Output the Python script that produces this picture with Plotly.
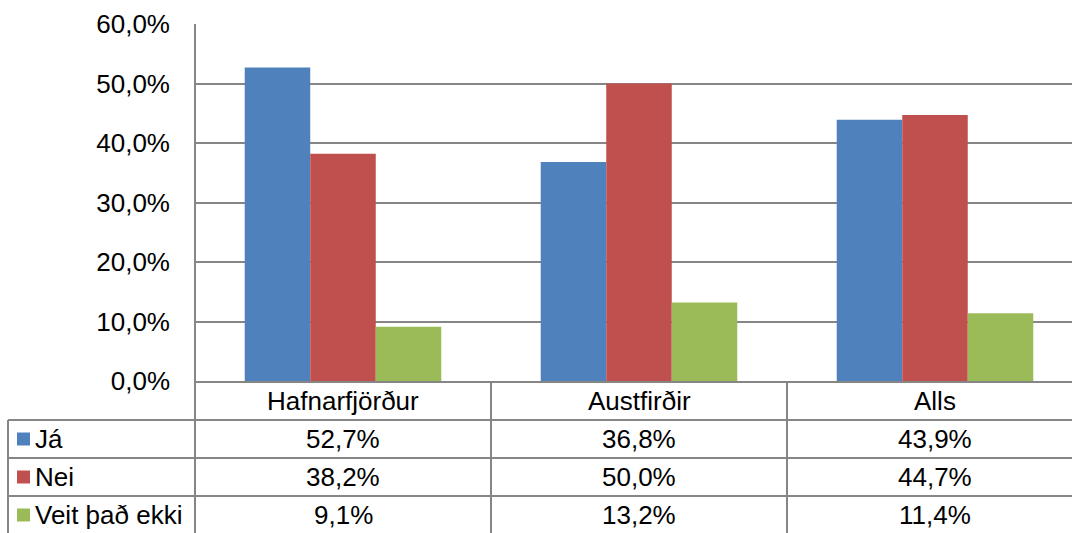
import plotly.graph_objects as go

categories = ["Hafnarfjörður", "Austfirðir", "Alls"]
series_names = ["Já", "Nei", "Veit það ekki"]
ja = [0.527, 0.368, 0.439]
nei = [0.382, 0.500, 0.447]
veit = [0.091, 0.132, 0.114]
colors = ["#4F81BD", "#C0504D", "#9BBB59"]

W, H = 1072, 533
L, T, B = 195, 24, 381  # plot area pixel bounds (left, top, bottom)
PH = B - T
PW = W - L
GRID = "#868686"
FONT = "Liberation Sans, Arial, sans-serif"
FS = 26

def py(p):  # pixel y -> paper y
    return (B - p) / PH

def px(p):  # pixel x -> paper x
    return (p - L) / PW

xs = list(range(len(categories)))
fig = go.Figure()
all_vals = [ja, nei, veit]
for name, vals, c in zip(series_names, all_vals, colors):
    fig.add_trace(go.Bar(x=xs, y=vals, name=name, marker=dict(color=c, line=dict(width=0)),
                         showlegend=False))

unit = 296  # pixels per category
xr_max = -0.5 + PW / unit

shapes = []
# left axis line extended down through table
shapes.append(dict(type="line", xref="paper", yref="paper", x0=0, x1=0, y0=py(H + 2), y1=1,
                   line=dict(color=GRID, width=2)))
# category separators
for k in [0.5, 1.5, 2.5]:
    shapes.append(dict(type="line", xref="x", yref="paper", x0=k, x1=k, y0=py(H + 2), y1=0,
                       line=dict(color=GRID, width=2)))
# horizontal table lines
row_lines = [420, 458, 496]
for r in row_lines:
    shapes.append(dict(type="line", xref="paper", yref="paper", x0=px(8), x1=px(W + 2), y0=py(r), y1=py(r),
                       line=dict(color=GRID, width=2)))
# left border of legend column
shapes.append(dict(type="line", xref="paper", yref="paper", x0=px(8), x1=px(8), y0=py(H + 2), y1=py(420),
                   line=dict(color=GRID, width=2)))

annotations = []
# category header
for i, cat in enumerate(categories):
    annotations.append(dict(x=i, y=py(401), xref="x", yref="paper", text=cat, showarrow=False,
                            font=dict(size=FS, color="black", family=FONT), xanchor="center", yanchor="middle"))
row_centers = [439, 477, 515]
for rc, name, vals, c in zip(row_centers, series_names, all_vals, colors):
    shapes.append(dict(type="rect", xref="paper", yref="paper", x0=px(17), x1=px(30), y0=py(rc + 6.5), y1=py(rc - 6.5),
                       fillcolor=c, line=dict(width=0)))
    annotations.append(dict(x=px(33), y=py(rc), xref="paper", yref="paper", text=name, showarrow=False,
                            font=dict(size=FS, color="black", family=FONT), xanchor="left", yanchor="middle"))
    for i, v in enumerate(vals):
        txt = f"{v*100:.1f}%".replace(".", ",")
        annotations.append(dict(x=i, y=py(rc), xref="x", yref="paper", text=txt, showarrow=False,
                                font=dict(size=FS, color="black", family=FONT), xanchor="center", yanchor="middle"))

fig.update_layout(
    width=W, height=H,
    margin=dict(l=L, r=0, t=T, b=H - B, pad=0),
    plot_bgcolor="white", paper_bgcolor="white",
    barmode="group", bargap=0.336, bargroupgap=0,
    separators=",.",
    font=dict(family=FONT, size=FS, color="black"),
    xaxis=dict(range=[-0.5, xr_max], showticklabels=False, showgrid=False, zeroline=False,
               showline=True, linecolor=GRID, linewidth=2, fixedrange=True),
    yaxis=dict(range=[0, 0.6], tickvals=[0, 0.1, 0.2, 0.3, 0.4, 0.5, 0.6], tickformat=".1%",
               showgrid=True, gridcolor=GRID, gridwidth=2, zeroline=False, showline=False,
               ticks="", ticklabelstandoff=24, tickfont=dict(size=FS, color="black", family=FONT)),
    shapes=shapes,
    annotations=annotations,
)

fig.write_html("out.html", config={"displayModeBar": False},
               post_script="document.body.style.margin='0';document.body.style.overflow='hidden';")
